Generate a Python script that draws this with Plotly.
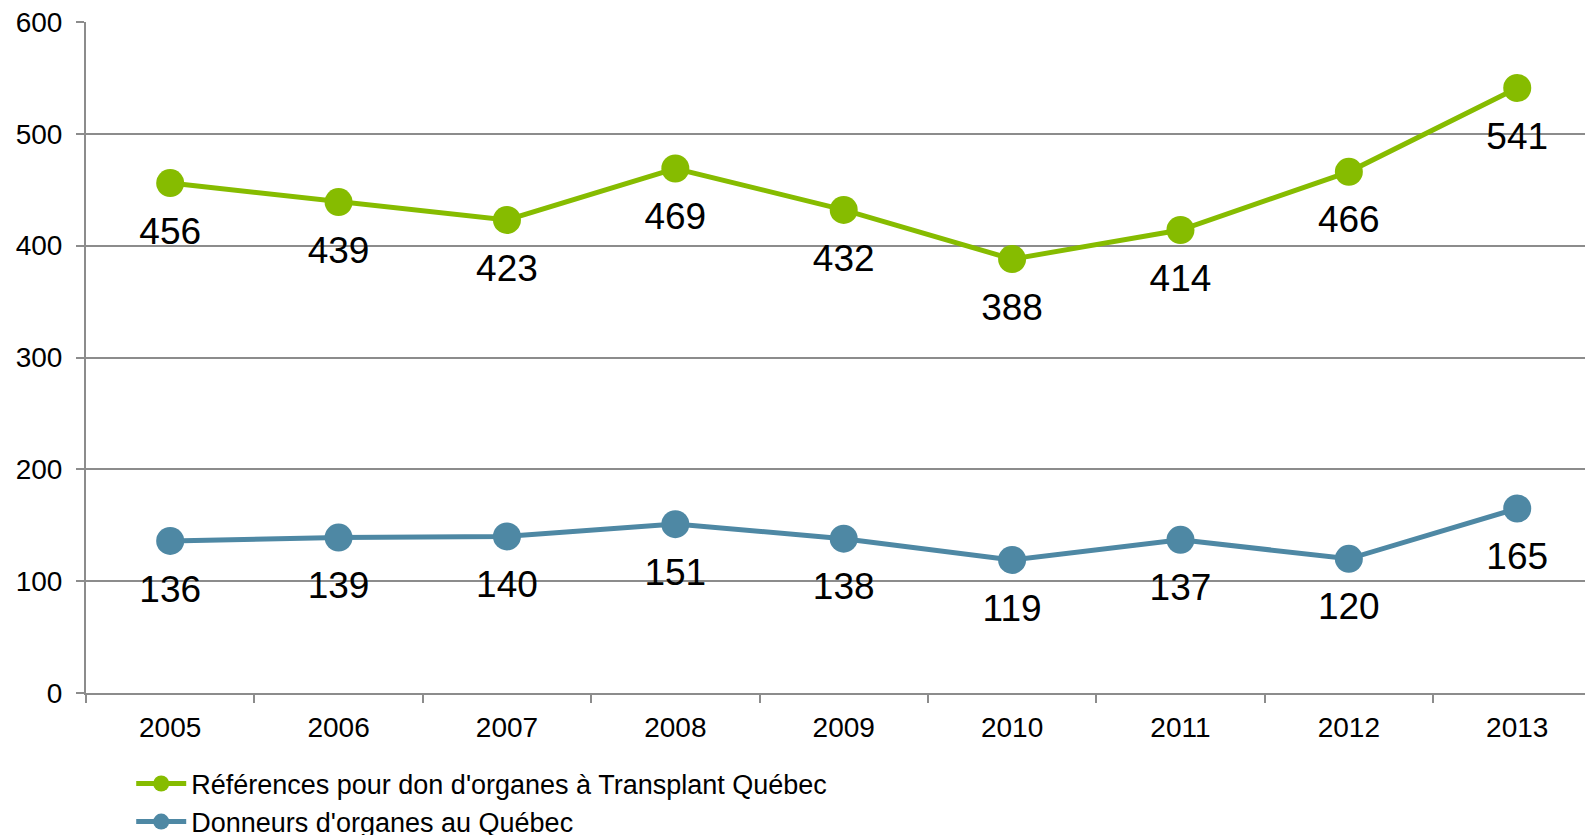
import plotly.graph_objects as go

years = ["2005", "2006", "2007", "2008", "2009", "2010", "2011", "2012", "2013"]
references = [456, 439, 423, 469, 432, 388, 414, 466, 541]
donneurs = [136, 139, 140, 151, 138, 119, 137, 120, 165]
name_ref = "Références pour don d'organes à Transplant Québec"
name_don = "Donneurs d'organes au Québec"

GREEN = "#86BC00"
BLUE = "#4E88A4"
GRID = "#8C8C8C"
FONT = "Liberation Sans, Arial, sans-serif"

fig = go.Figure()
for name, vals, col in ((name_ref, references, GREEN), (name_don, donneurs, BLUE)):
    fig.add_trace(go.Scatter(x=years, y=vals, name=name, mode="lines+markers",
                             line=dict(color=col, width=5), marker=dict(color=col, size=28)))
for vals in (references, donneurs):
    # data labels below the points (transparent spacer marker sets the offset)
    fig.add_trace(go.Scatter(x=years, y=vals, mode="markers+text", showlegend=False,
                             hoverinfo="skip",
                             text=[str(v) for v in vals], textposition="bottom center",
                             textfont=dict(size=37, color="black", family=FONT),
                             marker=dict(size=51, color="rgba(0,0,0,0)")))

fig.update_layout(
    width=1585, height=827,
    margin=dict(l=78, r=0, t=14, b=142, autoexpand=False),
    paper_bgcolor="white", plot_bgcolor="white",
    font=dict(family=FONT, color="black"),
    showlegend=True,
    legend=dict(x=0.030, y=-0.099, xanchor="left", yanchor="top",
                font=dict(size=27, color="black", family=FONT),
                itemwidth=50,
                bgcolor="rgba(0,0,0,0)", tracegroupgap=0),
)
fig.update_xaxes(type="category", range=[-0.5, 8.45], showgrid=False, automargin=False,
                 showline=True, linecolor=GRID, linewidth=2,
                 ticks="outside", tickson="boundaries", ticklen=8, tickcolor=GRID, tickwidth=2,
                 ticklabelstandoff=8, ticklabeloverflow="allow",
                 tickfont=dict(size=28, color="black"), zeroline=False)
fig.update_yaxes(range=[0, 600], tickvals=[0, 100, 200, 300, 400, 500, 600],
                 showgrid=True, gridcolor=GRID, gridwidth=2,
                 showline=True, linecolor=GRID, linewidth=2, automargin=False,
                 ticks="outside", ticklen=8, tickcolor=GRID, tickwidth=2,
                 ticklabelstandoff=8, ticklabeloverflow="allow",
                 tickfont=dict(size=28, color="black"), zeroline=False)

fig.write_html("out.html")
